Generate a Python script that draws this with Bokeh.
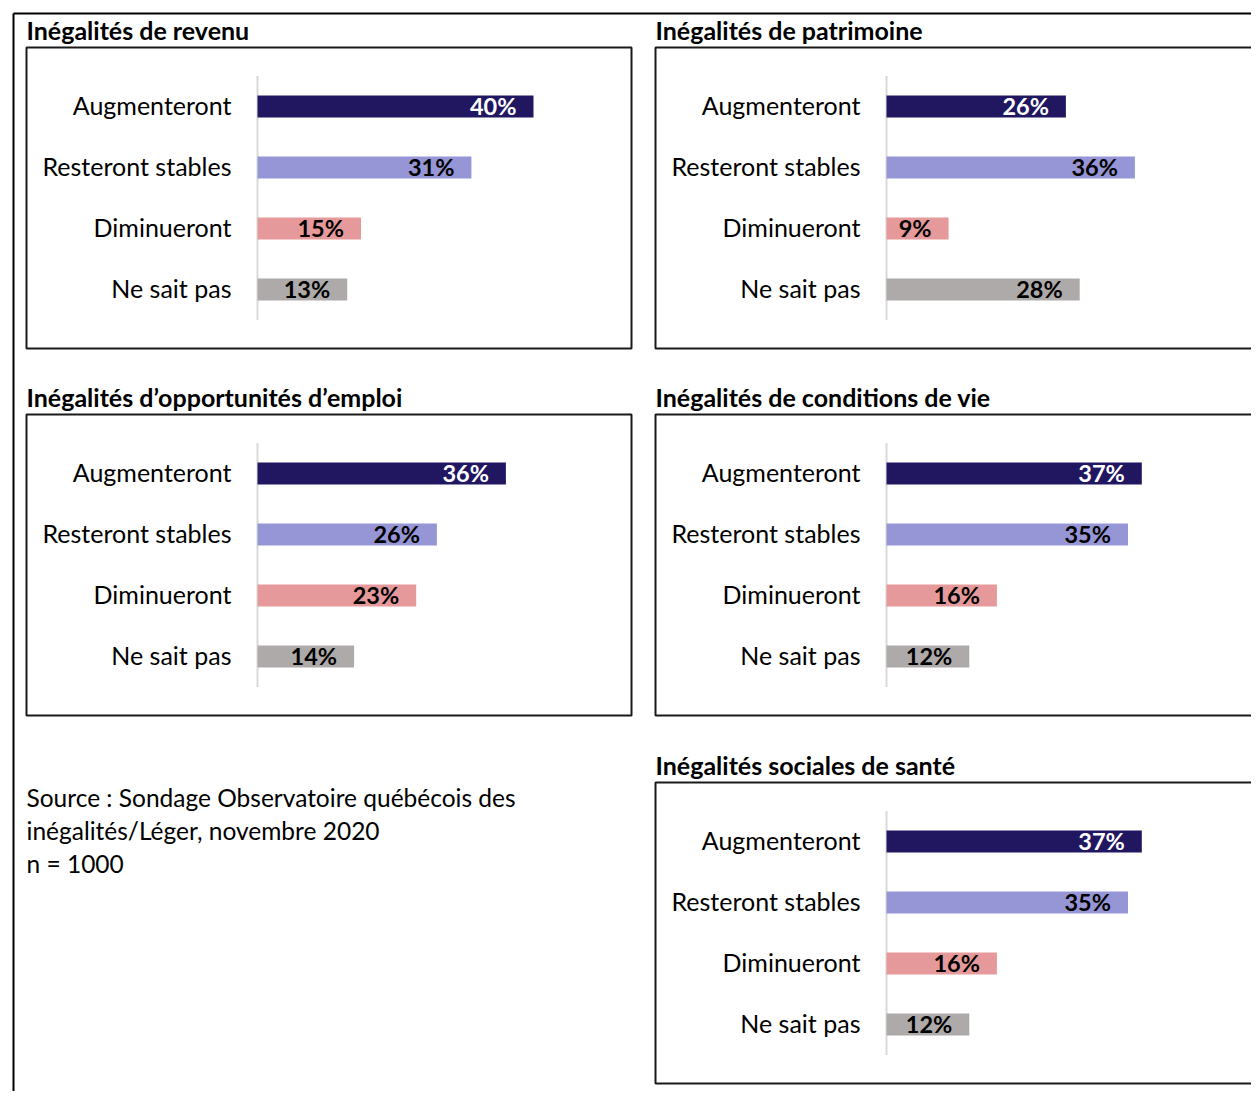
from bokeh.plotting import figure
from bokeh.models import Range1d, ColumnDataSource
from bokeh.embed import file_html
from bokeh.resources import INLINE
from bokeh.core.properties import value

# ---------------- data ----------------
categories = ["Augmenteront", "Resteront stables", "Diminueront", "Ne sait pas"]
revenu = [40, 31, 15, 13]
patrimoine = [26, 36, 9, 28]
emploi = [36, 26, 23, 14]
conditions = [37, 35, 16, 12]
sante = [37, 35, 16, 12]
panel_titles = [
    "Inégalités de revenu",
    "Inégalités de patrimoine",
    "Inégalités d\u2019opportunités d\u2019emploi",
    "Inégalités de conditions de vie",
    "Inégalités sociales de santé",
]
source_lines = [
    "Source : Sondage Observatoire québécois des",
    "inégalités/Léger, novembre 2020",
    "n = 1000",
]

# ---------------- styles ----------------
bar_colors = ["#211761", "#9695D5", "#E6999B", "#AEAAAA"]
label_colors = ["#FFFFFF", "#000000", "#000000", "#000000"]
FONT = "Lato"
W, H = 1251, 1091
S = 6.9        # pixels per percentage point
BAND = 61.0    # pixels per category band
BAR_H = 22.0 / BAND

p = figure(width=W, height=H, x_range=Range1d(0, W), y_range=Range1d(H, 0),
           output_backend="svg", toolbar_location=None,
           x_axis_location=None, y_axis_location=None,
           min_border=0, outline_line_color=None,
           background_fill_color="white", border_fill_color="white")
p.grid.visible = False

# outer frame (top and left edges)
p.segment(x0=[13, 13], y0=[13, 13], x1=[W + 10, 13], y1=[13, H + 10],
          line_color="black", line_width=2)

# panel layout: (title, values, box_left, box_right, axis_x, axis_top, box_top)
panels = [
    (panel_titles[0], revenu, 26, 631, 257, 75.5, 47),
    (panel_titles[1], patrimoine, 655, W + 10, 886, 75.5, 47),
    (panel_titles[2], emploi, 26, 631, 257, 442.5, 414),
    (panel_titles[3], conditions, 655, W + 10, 886, 442.5, 414),
    (panel_titles[4], sante, 655, W + 10, 886, 810.5, 782),
]

for i, (title, vals, bl, br, ax, atop, btop) in enumerate(panels):
    xr, yr = f"x{i}", f"y{i}"
    p.extra_x_ranges[xr] = Range1d(start=-ax / S, end=(W - ax) / S)
    b = -atop / BAND - 0.5
    a = b + H / BAND
    p.extra_y_ranges[yr] = Range1d(start=a, end=b)

    # box and title
    p.quad(left=[bl], right=[br], top=[btop], bottom=[btop + 301],
           fill_color=None, line_color="#1A1A1A", line_width=2)
    p.text(x=[bl], y=[btop - 18], text=[title], text_font=value(FONT),
           text_font_size="25px", text_font_style="bold", text_color="black",
           text_align="left", text_baseline="middle")

    src = ColumnDataSource(dict(
        idx=list(range(len(categories))),
        val=vals,
        cat=categories,
        lab=[f"{v}%" for v in vals],
        color=bar_colors,
        lcolor=label_colors,
    ))
    # category axis line
    p.segment(x0=[0], y0=[-0.5], x1=[0], y1=[len(categories) - 0.5],
              x_range_name=xr, y_range_name=yr,
              line_color="#D9D9D9", line_width=2)
    p.hbar(y="idx", left=0, right="val", height=BAR_H, source=src,
           fill_color="color", line_color=None,
           x_range_name=xr, y_range_name=yr)
    p.text(x=0, y="idx", text="cat", source=src, x_offset=-26, y_offset=-2,
           text_align="right", text_baseline="middle",
           text_font=value(FONT), text_font_size="25px", text_color="black",
           x_range_name=xr, y_range_name=yr)
    p.text(x="val", y="idx", text="lab", source=src, x_offset=-17, y_offset=-1,
           text_align="right", text_baseline="middle",
           text_font=value(FONT), text_font_size="23.5px", text_font_style="bold",
           text_color="lcolor", x_range_name=xr, y_range_name=yr)

# source note
p.text(x=[26, 26, 26], y=[797, 830, 863], text=source_lines,
       text_font=value(FONT), text_font_size="24.5px", text_color="black",
       text_align="left", text_baseline="middle")

open("out.html", "w").write(file_html(p, INLINE))
